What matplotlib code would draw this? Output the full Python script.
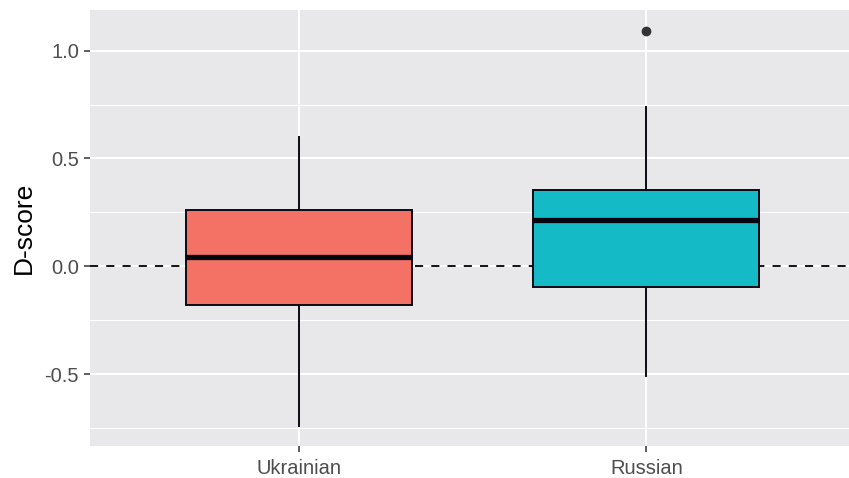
import matplotlib
matplotlib.use("Agg")
import matplotlib.pyplot as plt

plt.rcParams['font.family'] = ['Liberation Sans', 'DejaVu Sans']

# Summary statistics of D-scores per group
groups = ["Ukrainian", "Russian"]
whisker_low = [-0.739, -0.509]
q1 = [-0.181, -0.097]
median = [0.045, 0.215]
q3 = [0.261, 0.354]
whisker_high = [0.599, 0.738]
outliers = [[], [1.093]]
fills = ["#F47265", "#14BAC5"]

yticks = [-0.5, 0.0, 0.5, 1.0]
ytick_labels = ["-0.5", "0.0", "0.5", "1.0"]
minor_ticks = [-0.75, -0.25, 0.25, 0.75]

W, H = 849, 478
fig = plt.figure(figsize=(W / 100, H / 100), dpi=100)
left, right, top, bottom = 90, 855, 10, 446
ax = fig.add_axes([left / W, 1 - bottom / H, (right - left) / W, (bottom - top) / H])
ax.set_facecolor("#E8E8EB")

ax.set_xlim(0.4, 2.6)
ax.set_ylim(-0.834, 1.189)

# grid
for y in minor_ticks:
    ax.axhline(y, color="white", lw=0.8, zorder=0.5)
for y in yticks:
    ax.axhline(y, color="white", lw=1.5, zorder=0.6)
for x in [1, 2]:
    ax.axvline(x, color="white", lw=1.5, zorder=0.6)

# reference line at zero
ax.axhline(0, color="black", lw=1.3, ls=(0, (4.5, 4.5)), zorder=1)

stats = []
for i, g in enumerate(groups):
    stats.append(dict(label=g, whislo=whisker_low[i], q1=q1[i], med=median[i],
                      q3=q3[i], whishi=whisker_high[i], fliers=outliers[i]))

bp = ax.bxp(stats, positions=[1, 2], widths=0.65, patch_artist=True,
            showcaps=False,
            boxprops=dict(edgecolor="#0A0A14", linewidth=1.4),
            whiskerprops=dict(color="#0A0A14", linewidth=1.4),
            medianprops=dict(color="#050510", linewidth=3.8, solid_capstyle="butt"),
            flierprops=dict(marker="o", markerfacecolor="#333333",
                            markeredgecolor="#333333", markersize=6.0),
            zorder=2)
for patch, c in zip(bp["boxes"], fills):
    patch.set_facecolor(c)
    patch.set_zorder(2)

ax.set_yticks(yticks)
ax.set_yticklabels(ytick_labels)
ax.set_xticks([1, 2])
ax.set_xticklabels(groups)
ax.tick_params(axis="both", colors="#333333", length=4, width=1.1,
               labelsize=14.5, labelcolor="#4D4D4D")
ax.tick_params(axis="y", pad=4)
ax.tick_params(axis="x", pad=5)
ax.set_ylabel("D-score", fontsize=19, color="black", labelpad=6)

for s in ax.spines.values():
    s.set_visible(False)

fig.savefig("out.png", dpi=100)
